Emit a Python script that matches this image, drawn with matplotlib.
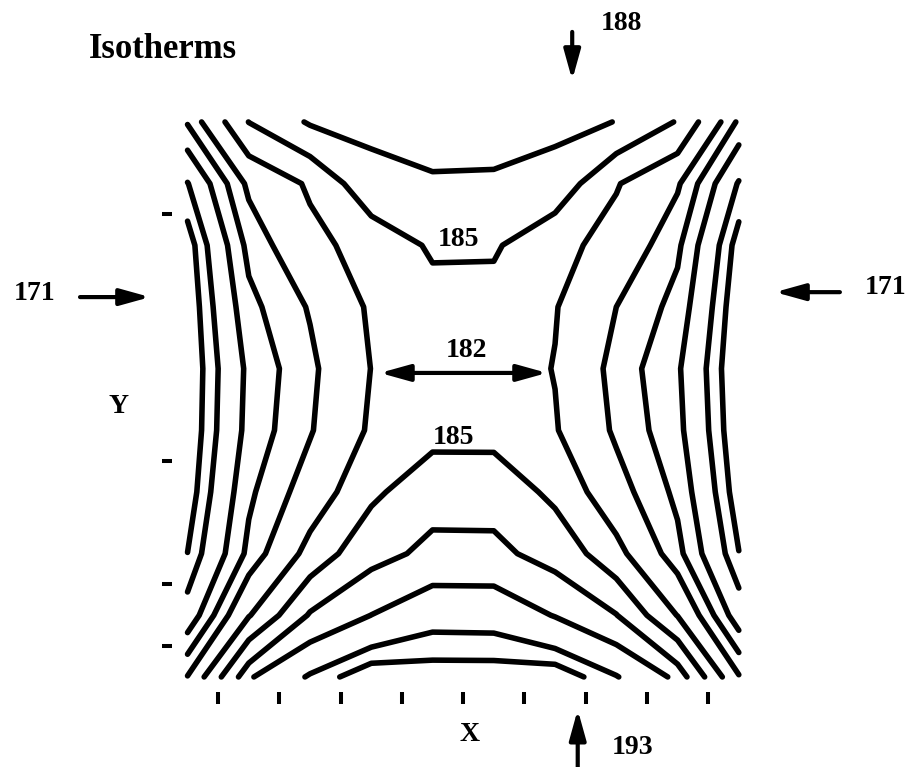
import numpy as np
import matplotlib
matplotlib.use("Agg")
import matplotlib.pyplot as plt

# Temperature field on a 10 x 10 node grid (rows listed from the top edge down)
grid_x = list(range(10))
grid_y = list(range(10))
temp_row_0 = [177.2, 185.05, 188.32, 188.7, 189.0, 189.0, 188.7, 187.95, 184.8, 176.6]
temp_row_1 = [172.4, 179.5, 182.4, 187.1, 187.76, 187.7, 186.95, 182.2, 179.3, 172.3]
temp_row_2 = [170.1, 177.6, 181.2, 183.1, 185.4, 185.35, 182.85, 181.0, 177.4, 170.2]
temp_row_3 = [169.7, 176.4, 179.2, 182.4, 184.0, 184.0, 182.15, 179.0, 176.3, 169.6]
temp_row_4 = [169.5, 175.5, 178.5, 182.05, 183.3, 183.35, 181.9, 178.2, 175.3, 169.3]
temp_row_5 = [169.6, 175.7, 178.8, 182.4, 183.8, 183.8, 182.2, 178.6, 175.6, 169.5]
temp_row_6 = [170.0, 176.6, 180.2, 184.3, 187.2, 187.15, 184.2, 180.0, 176.5, 170.0]
temp_row_7 = [171.02, 177.5, 183.0, 187.3, 188.5, 188.5, 187.2, 182.9, 177.6, 171.05]
temp_row_8 = [173.4, 181.8, 188.3, 190.02, 191.4, 191.35, 189.9, 188.1, 181.9, 173.65]
temp_row_9 = [179.1, 189.8, 192.2, 193.85, 193.6, 193.6, 193.8, 192.1, 189.6, 179.2]

isotherm_levels = [171, 172.5, 175, 177, 179, 182, 185, 188, 190, 192, 193]

x_ticks = [0.5, 1.5, 2.5, 3.5, 4.5, 5.5, 6.5, 7.5, 8.5]
y_ticks = [1.5, 5.5, 7.5, 8.5]

edge_temp_left = "171"
edge_temp_right = "171"
edge_temp_top = "188"
edge_temp_bottom = "193"
label_182 = "182"
label_185 = "185"

field = np.array([temp_row_0, temp_row_1, temp_row_2, temp_row_3, temp_row_4,
                  temp_row_5, temp_row_6, temp_row_7, temp_row_8, temp_row_9])

fig = plt.figure(figsize=(9.18, 7.67), dpi=100)
ax = fig.add_axes([0.1876, 0.0973, 0.6339, 0.7638])

cs = ax.contour(grid_x, grid_y, field, levels=isotherm_levels,
                colors="black", linewidths=4.0)
cs.set_capstyle("round")
cs.set_joinstyle("round")

ax.set_xlim(-0.25, 9.25)
ax.set_ylim(9.25, -0.25)
for spine in ax.spines.values():
    spine.set_visible(False)
ax.set_xticks(x_ticks)
ax.set_yticks(y_ticks)
ax.tick_params(axis="x", direction="out", length=8.6, width=2.9,
               color="black", labelbottom=False)
ax.tick_params(axis="y", direction="out", length=7.0, width=2.9,
               color="black", labelleft=False)

font = dict(family="Liberation Serif", weight="bold", color="black")


def label(x, y, s, size=20, ha="center"):
    ax.text(x, y, s, ha=ha, va="center", fontsize=size, clip_on=False, **font)


def arrow(tail, tip, style="-|>"):
    ax.annotate("", xy=tip, xytext=tail, xycoords="data", textcoords="data",
                annotation_clip=False,
                arrowprops=dict(arrowstyle=f"{style},head_length=0.9,head_width=0.25",
                                lw=3.0, color="black", shrinkA=0, shrinkB=0,
                                mutation_scale=20))


label(-1.607, -1.17, "Isotherms", size=25, ha="left")

# boundary temperatures
label(-2.49, 2.78, edge_temp_left)
arrow((-1.755, 2.84), (-0.612, 2.84))
label(11.40, 2.68, edge_temp_right)
arrow((10.65, 2.76), (9.59, 2.76))
label(7.09, -1.60, edge_temp_top)
arrow((6.28, -1.46), (6.28, -0.68))
label(7.27, 10.15, edge_temp_bottom)
arrow((6.37, 10.46), (6.37, 9.53))

# contour values inside the field
label(4.55, 3.70, label_182)
arrow((3.14, 4.07), (5.87, 4.07), style="<|-|>")
label(4.42, 1.90, label_185)
label(4.34, 5.11, label_185)

label(4.61, 9.94, "X")
label(-1.12, 4.61, "Y")

fig.savefig("out.png", dpi=100)
